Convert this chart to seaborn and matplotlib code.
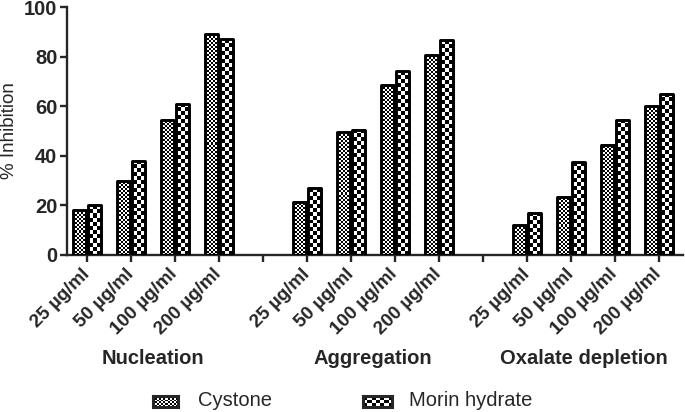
import matplotlib
import matplotlib.pyplot as plt
import matplotlib.transforms as mtransforms
import numpy as np
import pandas as pd
import seaborn as sns

matplotlib.use("Agg")

ASSAYS = ["Nucleation", "Aggregation", "Oxalate depletion"]
CONCS = ["25 µg/ml", "50 µg/ml", "100 µg/ml", "200 µg/ml"]
TREATMENTS = ["Cystone", "Morin hydrate"]

cystone = [18, 30, 54.5, 89, 21.5, 49.5, 68.5, 80.5, 12, 23.5, 44.5, 60]
morin = [20, 38, 61, 87, 27, 50.5, 74, 86.5, 17, 37.5, 54.5, 65]

# checker cell size in pixels, per treatment
CELL_PX = {"Cystone": 2, "Morin hydrate": 4}
FONT = ["Liberation Sans", "DejaVu Sans"]
# group label centres, in slot units
GROUP_X = [1.5, 6.5, 11.3]


def build_frame() -> tuple[pd.DataFrame, list[str], list[str]]:
    rows = []
    order = []
    labels = []
    for g, assay in enumerate(ASSAYS):
        if g > 0:
            order.append(f"gap{g}")
            labels.append("")
        for c, conc in enumerate(CONCS):
            key = f"{assay}|{conc}"
            order.append(key)
            labels.append(conc)
            rows.append({"slot": key, "treatment": "Cystone", "value": cystone[g * 4 + c]})
            rows.append({"slot": key, "treatment": "Morin hydrate", "value": morin[g * 4 + c]})
    return pd.DataFrame(rows), order, labels


def checker(nx: int, ny: int) -> np.ndarray:
    return np.indices((ny, nx)).sum(axis=0) % 2


def fill_checker(ax, patch, cell_px: float) -> None:
    x, y = patch.get_x(), patch.get_y()
    w, h = patch.get_width(), patch.get_height()
    (x0, y0), (x1, y1) = ax.transData.transform([(x, y), (x + w, y + h)])
    nx = max(1, round(abs(x1 - x0) / cell_px))
    ny = max(1, round(abs(y1 - y0) / cell_px))
    ax.imshow(checker(nx, ny), cmap="gray", vmin=0, vmax=1, origin="lower",
              extent=(x, x + w, y, y + h), interpolation="nearest",
              aspect="auto", zorder=2.5)


def legend_swatch(fig, box, cell_px: float) -> None:
    x0, y0, w, h = box
    sw = fig.add_axes([x0 / 685, 1 - (y0 + h) / 412, w / 685, h / 412])
    sw.imshow(checker(max(1, round(w / cell_px)), max(1, round(h / cell_px))),
              cmap="gray", vmin=0, vmax=1, interpolation="nearest", aspect="auto")
    sw.set_xticks([])
    sw.set_yticks([])
    for sp in sw.spines.values():
        sp.set_linewidth(2.2)


def main() -> None:
    sns.set_style("ticks")
    plt.rcParams["font.family"] = FONT

    df, order, labels = build_frame()

    fig = plt.figure(figsize=(6.85, 4.12), dpi=100)
    ax = fig.add_axes([67 / 685, 157 / 412, 616 / 685, 248 / 412])

    sns.barplot(data=df, x="slot", y="value", hue="treatment", order=order,
                hue_order=TREATMENTS, width=0.66, gap=0.1,
                palette=["white", "white"], edgecolor="black", linewidth=2.1,
                legend=False, ax=ax)

    ax.set_xlim(-0.455, len(order) - 0.455)
    ax.set_ylim(0, 100)
    fig.canvas.draw()

    for treatment, container in zip(TREATMENTS, ax.containers):
        for bar in container:
            fill_checker(ax, bar, CELL_PX[treatment])
            bar.set_facecolor("none")
            bar.set_zorder(3)
            bar.set_joinstyle("round")

    ax.set_xlim(-0.455, len(order) - 0.455)
    ax.set_ylim(0, 100)

    sns.despine(ax=ax)
    for side in ["left", "bottom"]:
        ax.spines[side].set_linewidth(1.7)
    ax.tick_params(axis="both", width=1.7, length=5, direction="out")

    ax.set_yticks(range(0, 101, 20))
    ax.set_yticklabels([str(v) for v in range(0, 101, 20)], fontsize=14.5,
                       fontweight="bold")
    ax.set_xticks(range(len(order)))
    ax.set_xticklabels(labels, rotation=45, ha="right", va="center",
                       rotation_mode="anchor", fontsize=13.5, fontweight="bold")
    ax.tick_params(axis="x", pad=7)
    ax.tick_params(axis="y", pad=2)
    ax.set_xlabel("")
    ax.set_ylabel("% Inhibition", fontsize=13.5, labelpad=4)

    trans = mtransforms.blended_transform_factory(ax.transData, fig.transFigure)
    for assay, center in zip(ASSAYS, GROUP_X):
        ax.text(center, 1 - 358 / 412, assay, transform=trans, ha="center",
                va="center", fontsize=14.5, fontweight="bold")

    legend_swatch(fig, (153, 396, 25, 11), CELL_PX["Cystone"])
    legend_swatch(fig, (363, 396, 29, 11), CELL_PX["Morin hydrate"])
    fig.text(198 / 685, 1 - 401 / 412, "Cystone", fontsize=14.5, va="center")
    fig.text(409 / 685, 1 - 401 / 412, "Morin hydrate", fontsize=14.5,
             va="center")

    fig.savefig("out.png", dpi=100)


if __name__ == "__main__":
    main()
